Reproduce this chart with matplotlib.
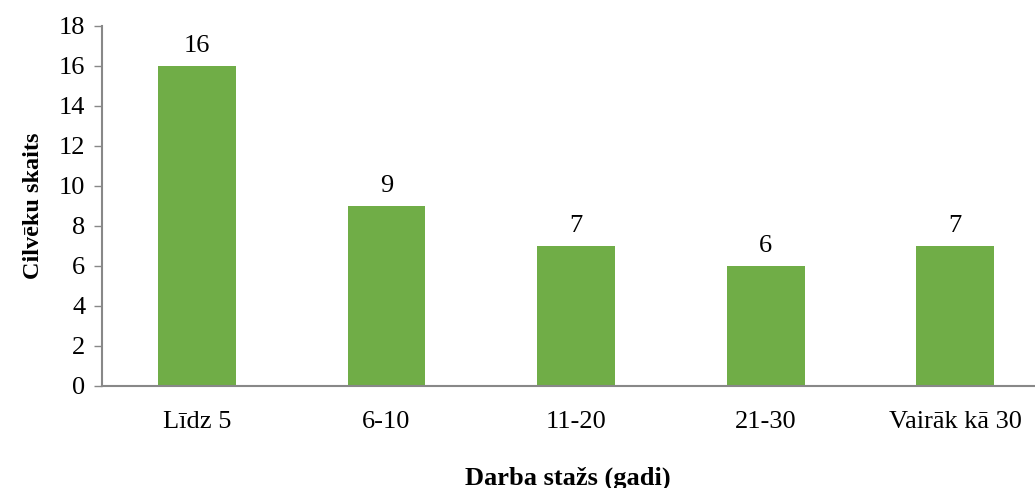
import matplotlib.pyplot as plt

categories = ["Līdz 5", "6-10", "11-20", "21-30", "Vairāk kā 30"]
values = [16, 9, 7, 6, 7]
yticks = [0, 2, 4, 6, 8, 10, 12, 14, 16, 18]

plt.rcParams["font.family"] = ["Liberation Serif", "DejaVu Serif"]

fig = plt.figure(figsize=(10.35, 4.88), dpi=100)
ax = fig.add_axes([102 / 1035, 1 - 386 / 488, (1034 - 102) / 1035, (386 - 26) / 488])

x = range(len(categories))
bars = ax.bar(x, values, width=0.41, color="#70AD47", zorder=2)
for b, v in zip(bars, values):
    ax.text(b.get_x() + b.get_width() / 2, v + 0.45, str(v),
            ha="center", va="bottom", fontsize=19)

ax.set_xlim(-0.5, 4.415)
ax.set_ylim(0, 18)
ax.set_yticks(yticks)
ax.set_xticks(list(x))
ax.set_xticklabels(categories)
ax.tick_params(axis="y", labelsize=19, length=6, width=1, color="#888888", pad=6)
ax.tick_params(axis="x", labelsize=19, length=0, pad=18)

for s in ["top", "right"]:
    ax.spines[s].set_visible(False)
for s in ["left", "bottom"]:
    ax.spines[s].set_color("#888888")
    ax.spines[s].set_linewidth(1.5)

ax.set_ylabel("Cilvēku skaits", fontsize=17.5, fontweight="bold", labelpad=11)
ax.set_xlabel("Darba stažs (gadi)", fontsize=19, fontweight="bold", labelpad=24)

fig.savefig("out.png", dpi=100)
